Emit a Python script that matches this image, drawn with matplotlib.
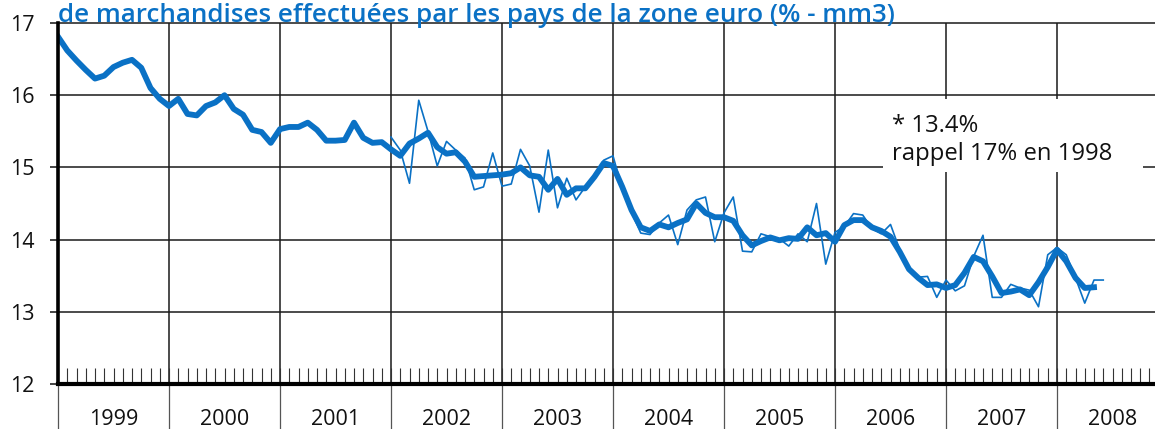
import matplotlib
matplotlib.use('Agg')
import matplotlib.pyplot as plt
import matplotlib.transforms as mtr
from matplotlib.patches import Rectangle
import numpy as np

# mm3 series, monthly from Jan 1999
mm3 = [16.81, 16.62, 16.48, 16.35, 16.23, 16.27, 16.39, 16.45, 16.49, 16.38, 16.10, 15.95,
       15.85, 15.95, 15.74, 15.72, 15.85, 15.90, 16.00, 15.81, 15.73, 15.52, 15.49, 15.34,
       15.53, 15.56, 15.56, 15.62, 15.52, 15.37, 15.37, 15.38, 15.62, 15.41, 15.34, 15.35,
       15.25, 15.16, 15.33, 15.40, 15.48, 15.28, 15.19, 15.21, 15.08, 14.87, 14.88, 14.89,
       14.90, 14.92, 15.00, 14.89, 14.87, 14.69, 14.84, 14.62, 14.71, 14.71, 14.87, 15.06,
       15.02, 14.73, 14.41, 14.17, 14.12, 14.21, 14.17, 14.23, 14.28, 14.50, 14.37, 14.31,
       14.31, 14.26, 14.06, 13.92, 13.98, 14.03, 13.99, 14.02, 14.01, 14.17, 14.06, 14.09,
       13.97, 14.20, 14.27, 14.27, 14.17, 14.12, 14.04, 13.83, 13.59, 13.47, 13.37, 13.38,
       13.33, 13.37, 13.54, 13.76, 13.70, 13.49, 13.26, 13.28, 13.31, 13.23, 13.41, 13.62,
       13.86, 13.70, 13.47, 13.33, 13.34]

# monthly values, from Jan 2002
monthly = [15.42, 15.24, 14.78, 15.93, 15.50, 15.02, 15.36, 15.24, 15.13, 14.69, 14.73, 15.20,
           14.74, 14.77, 15.25, 15.02, 14.38, 15.24, 14.44, 14.85, 14.55, 14.73, 14.87, 15.10,
           15.16, 14.70, 14.38, 14.09, 14.07, 14.23, 14.34, 13.93, 14.41, 14.55, 14.59, 13.97,
           14.37, 14.59, 13.84, 13.83, 14.08, 14.04, 14.01, 13.91, 14.08, 13.97, 14.50, 13.66,
           14.10, 14.18, 14.36, 14.34, 14.15, 14.08, 14.21, 13.86, 13.58, 13.48, 13.49, 13.20,
           13.44, 13.29, 13.36, 13.77, 14.06, 13.20, 13.20, 13.38, 13.33, 13.30, 13.07, 13.79,
           13.89, 13.79, 13.47, 13.12, 13.44, 13.44]

years = list(range(1999, 2009))
yticks = [12, 13, 14, 15, 16, 17]
title = 'de marchandises effectuées par les pays de la zone euro (% - mm3)'
note1 = '* 13.4%'
note2 = 'rappel 17% en 1998'

blue = '#0a71c5'
plt.rcParams['font.family'] = ['Open Sans', 'DejaVu Sans']

x_mm3 = 1999 + np.arange(len(mm3)) / 12.0
x_mon = 2002 + np.arange(len(monthly)) / 12.0

fig = plt.figure(figsize=(11.55, 4.29), dpi=100)
ax = fig.add_axes([58 / 1155, 1 - 384 / 429, 1097 / 1155, 361 / 429])
ax.set_xlim(1999, 1999 + 1097 / 111.0)
ax.set_ylim(12, 17)

# grid
for v in yticks[1:]:
    ax.axhline(v, color='#1a1a1a', lw=1.1, clip_on=False, zorder=1)
for yr in years[1:]:
    ax.axvline(yr, color='#1a1a1a', lw=1.1, zorder=1)
for yr in years:
    ax.axvline(yr, ymin=-0.13, ymax=0, color='#555555', lw=0.9, clip_on=False, zorder=1)

ax.plot(x_mon, monthly, color=blue, lw=1.2, zorder=3)
ax.plot(x_mm3, mm3, color=blue, lw=4.2, solid_joinstyle='round', zorder=4)

# spines and ticks
for s in ['top', 'right']:
    ax.spines[s].set_visible(False)
ax.spines['left'].set_linewidth(2.6)
ax.spines['bottom'].set_linewidth(3.0)
ax.spines['left'].set_zorder(6)
ax.spines['bottom'].set_zorder(6)

ax.set_yticks(yticks)
ax.set_yticklabels([str(v) for v in yticks])
ax.tick_params(axis='y', direction='out', length=6, width=1.1, pad=11, labelsize=15.5, colors='#111111')
ax.set_xticks(1999 + np.arange(0, 119) / 12.0)
ax.set_xticklabels([])
ax.tick_params(axis='x', direction='in', length=11.5, width=0.8, color='#333333')

trans = mtr.blended_transform_factory(ax.transData, ax.transAxes)
for yr in years:
    ax.text(yr + 0.5, -0.1136, str(yr), transform=trans, ha='center', va='baseline',
            fontsize=15.5, color='#111111')

# note box
ax.add_patch(Rectangle((0.752, 0.587), 0.237, 0.202, transform=ax.transAxes,
                       facecolor='white', edgecolor='none', zorder=7, clip_on=False))
ax.text(0.7603, 0.698, note1, transform=ax.transAxes, fontsize=17.2, color='#111111',
        va='baseline', ha='left', zorder=8)
ax.text(0.7603, 0.6205, note2, transform=ax.transAxes, fontsize=17.2, color='#111111',
        va='baseline', ha='left', zorder=8)

fig.text(58 / 1155, 1 - 22 / 429, title, color=blue, fontsize=18.7, fontweight='semibold',
         va='baseline', ha='left')

fig.savefig('out.png', dpi=100)
